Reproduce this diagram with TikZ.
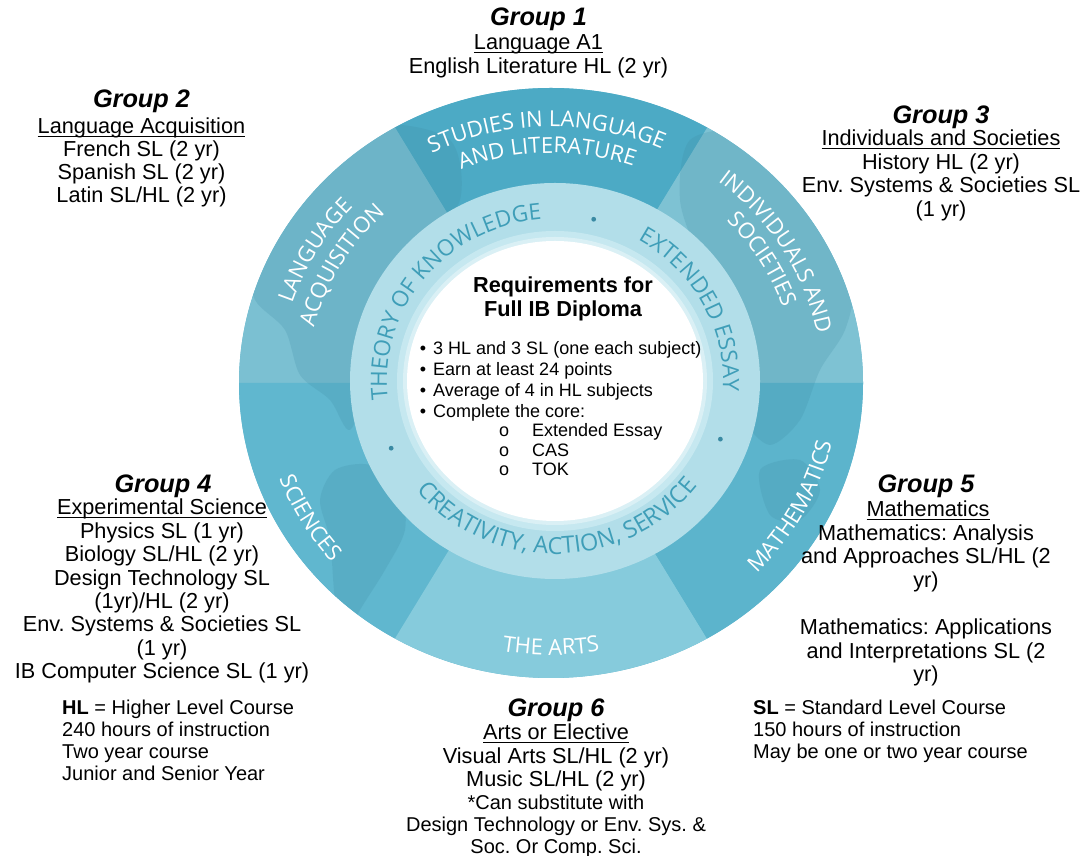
\documentclass[tikz,border=0pt]{standalone}
\usepackage{fontspec}
\setmainfont{Liberation Sans}
\newfontfamily\ringfont{Open Sans}
\usetikzlibrary{decorations.text}
\frenchspacing
\definecolor{secStudies}{HTML}{4CAAC5}
\definecolor{secIndiv}{HTML}{7EC2D3}
\definecolor{secLang}{HTML}{7BC0D2}
\definecolor{secSci}{HTML}{60B7CF}
\definecolor{secArts}{HTML}{86CBDC}
\definecolor{secMath}{HTML}{5CB4CC}
\definecolor{mapLand}{HTML}{3F8DA5}
\definecolor{coreRing}{HTML}{B2DEE9}
\definecolor{coreHalo}{HTML}{C6E8F0}
\definecolor{coreHaloB}{HTML}{DAF0F5}
\definecolor{coreText}{HTML}{3F9EB8}
\definecolor{coreDot}{HTML}{3A8AA3}
\newcommand\myul[1]{\setbox0=\hbox{#1}\rlap{\rule[-3pt]{\wd0}{1.4pt}}\box0}
\newcommand\ringtxt{\ringfont\fontsize{22}{22}\selectfont}
\newcommand\coretxt{\ringfont\fontsize{22.5}{22.5}\selectfont}
\newcommand\cascoretxt{\ringfont\fontsize{23.5}{23.5}\selectfont}
\tikzset{
 hdr/.style={anchor=base, inner sep=0pt, font=\fontsize{25.3}{28}\selectfont\bfseries\itshape},
 body/.style={anchor=base, inner sep=0pt, font=\fontsize{21.7}{23}\selectfont},
 note/.style={anchor=base west, inner sep=0pt, font=\fontsize{20}{22}\selectfont},
 notec/.style={anchor=base, inner sep=0pt, font=\fontsize{20}{22}\selectfont},
 reqhdr/.style={anchor=base, inner sep=0pt, font=\fontsize{21.7}{23}\selectfont\bfseries},
 req/.style={anchor=base west, inner sep=0pt, font=\fontsize{18}{20}\selectfont},
 outerlbl/.style={decorate, decoration={text along path, text align=center, text color=white, text={|\ringtxt|#1}}},
 corelbl/.style={decorate, decoration={text along path, text align=center, text color=coreText, text={|\coretxt|#1}}},
 caslbl/.style={decorate, decoration={text along path, text align=center, text color=coreText, text={|\cascoretxt|#1}}},
 land/.style={fill=mapLand, fill opacity=0.22},
}
\begin{document}
\begin{tikzpicture}[x=1pt,y=1pt]
\useasboundingbox (0,0) rectangle (1092,856);
\fill[white] (0,0) rectangle (1092,856);

% ---------- outer ring sectors ----------
\begin{scope}[shift={(551,473)}]
 \fill[secSci] (0,0) ellipse[x radius=312pt, y radius=295pt];
 \fill[secIndiv] (0,0) -- (0:312pt and 295pt) arc[start angle=0,end angle=60,x radius=312pt,y radius=295pt] -- cycle;
 \fill[secStudies] (0,0) -- (60:312pt and 295pt) arc[start angle=60,end angle=120,x radius=312pt,y radius=295pt] -- cycle;
 \fill[secLang] (0,0) -- (120:312pt and 295pt) arc[start angle=120,end angle=180,x radius=312pt,y radius=295pt] -- cycle;
 \fill[secSci] (0,0) -- (180:312pt and 295pt) arc[start angle=180,end angle=240,x radius=312pt,y radius=295pt] -- cycle;
 \fill[secArts] (0,0) -- (240:312pt and 295pt) arc[start angle=240,end angle=300,x radius=312pt,y radius=295pt] -- cycle;
 \fill[secMath] (0,0) -- (300:312pt and 295pt) arc[start angle=300,end angle=360,x radius=312pt,y radius=295pt] -- cycle;
\end{scope}

% ---------- faint world map ----------
\begin{scope}
 \clip (551,473) ellipse[x radius=312pt, y radius=295pt];
 \fill[land] plot[smooth cycle] coordinates {(300,696) (380,731) (450,716) (460,656) (420,606) (400,536) (370,476) (350,426) (330,456) (300,481) (285,526) (255,556) (250,596) (270,646)};
 \fill[land] plot[smooth cycle] coordinates {(335,386) (370,391) (400,366) (405,326) (385,286) (360,246) (345,216) (335,256) (330,316) (320,356)};
 \fill[land] plot[smooth cycle] coordinates {(690,716) (750,726) (800,696) (840,636) (855,576) (845,526) (820,486) (800,436) (770,411) (745,436) (750,476) (730,526) (700,596) (680,656)};
 \fill[land] plot[smooth cycle] coordinates {(760,386) (800,396) (820,366) (800,336) (770,341)};
\end{scope}

% ---------- outer ring labels ----------
\begin{scope}[shift={(551,473)}]
 \path[outerlbl={STUDIES IN LANGUAGE}] (161:271pt and 256pt) arc[start angle=161,end angle=21,x radius=271pt,y radius=256pt];
 \path[outerlbl={AND LITERATURE}] (161:243pt and 230pt) arc[start angle=161,end angle=21,x radius=243pt,y radius=230pt];
 \path[outerlbl={LANGUAGE}] (195:272pt and 257pt) arc[start angle=195,end angle=105,x radius=272pt,y radius=257pt];
 \path[outerlbl={ACQUISITION}] (195:244pt and 231pt) arc[start angle=195,end angle=105,x radius=244pt,y radius=231pt];
 \path[outerlbl={INDIVIDUALS AND}] (76:271pt and 256pt) arc[start angle=76,end angle=-14,x radius=271pt,y radius=256pt];
 \path[outerlbl={SOCIETIES}] (76:245pt and 232pt) arc[start angle=76,end angle=-14,x radius=245pt,y radius=232pt];
 \path[outerlbl={SCIENCES}] (165:290pt and 274pt) arc[start angle=165,end angle=255,x radius=290pt,y radius=274pt];
 \path[outerlbl={THE ARTS}] (225:288pt and 272pt) arc[start angle=225,end angle=315,x radius=288pt,y radius=272pt];
 \path[outerlbl={MATHEMATICS}] (288:288pt and 272pt) arc[start angle=288,end angle=376,x radius=288pt,y radius=272pt];
\end{scope}

% ---------- core ring ----------
\begin{scope}[shift={(555,475)}]
 \fill[coreRing] (0,0) ellipse[x radius=205pt, y radius=198pt];
 \fill[coreHalo] (0,0) ellipse[x radius=158pt, y radius=150pt];
 \fill[coreHaloB] (0,0) ellipse[x radius=152pt, y radius=144pt];
 \fill[white] (0,0) ellipse[x radius=148pt, y radius=140pt];
 \path[corelbl={THEORY OF KNOWLEDGE}] (216:168pt and 162pt) arc[start angle=216,end angle=66,x radius=168pt,y radius=162pt];
 \path[corelbl={EXTENDED ESSAY}] (93:168pt and 162pt) arc[start angle=93,end angle=-37,x radius=168pt,y radius=162pt];
 \path[caslbl={CREATIVITY, ACTION, SERVICE}] (191:179pt and 173pt) arc[start angle=191,end angle=351,x radius=179pt,y radius=173pt];
 \fill[coreDot] (77:172pt and 166pt) circle[radius=2.4pt];
 \fill[coreDot] (-20:176pt and 170pt) circle[radius=2.4pt];
 \fill[coreDot] (203:178pt and 172pt) circle[radius=2.4pt];
\end{scope}

% ---------- centre text ----------
\node[reqhdr] (reqA) at (563,563) {Requirements for};
\node[reqhdr] (reqB) at (563,539) {Full IB Diploma};
\foreach \t [count=\i from 0] in {{3 HL and 3 SL (one each subject)},{Earn at least 24 points},{Average of 4 in HL subjects},{Complete the core:}} {
 \node[req] (bt\i) at (433,{501-20.7*\i}) {\t};
 \node[req,anchor=base] (bd\i) at (423,{501-20.7*\i}) {•};
}
\foreach \t [count=\i from 0] in {{Extended Essay},{CAS},{TOK}} {
 \node[req] (st\i) at (532,{419-19.5*\i}) {\t};
 \node[req,anchor=base] (sd\i) at (504,{419-19.5*\i}) {o};
}

% ---------- Group 1 ----------
\node[hdr] (gone) at (538.5,830) {Group 1};
\node[body] (goneA) at (538.5,806) {\myul{Language A1}};
\node[body] (goneB) at (538.5,782) {English Literature HL (2 yr)};

% ---------- Group 2 ----------
\node[hdr] (gtwo) at (141.5,748) {Group 2};
\node[body] (gtwoA) at (141.5,722) {\myul{Language Acquisition}};
\foreach \t [count=\i from 0] in {{French SL (2 yr)},{Spanish SL (2 yr)},{Latin SL/HL (2 yr)}} {
 \node[body] (gtwo\i) at (141.5,{699-23*\i}) {\t};
}

% ---------- Group 3 ----------
\node[hdr] (gthree) at (941,732) {Group 3};
\node[body] (gthreeA) at (941,710) {\myul{Individuals and Societies}};
\foreach \t [count=\i from 0] in {{History HL (2 yr)},{Env. Systems \& Societies SL},{(1 yr)}} {
 \node[body] (gthree\i) at (941,{686.5-23.5*\i}) {\t};
}

% ---------- Group 4 ----------
\node[hdr] (gfour) at (163,363) {Group 4};
\node[body] (gfourA) at (162,341) {\myul{Experimental Science}};
\foreach \t [count=\i from 0] in {{Physics SL (1 yr)},{Biology SL/HL (2 yr)},{Design Technology SL},{(1yr)/HL (2 yr)},{Env. Systems \& Societies SL},{(1 yr)},{IB Computer Science SL (1 yr)}} {
 \node[body] (gfour\i) at (162,{317.6-23.4*\i}) {\t};
}
\foreach \t [count=\i from 0] in {{\textbf{HL} = Higher Level Course},{240 hours of instruction},{Two year course},{Junior and Senior Year}} {
 \node[note] (hl\i) at (62,{141-21.7*\i}) {\t};
}

% ---------- Group 5 ----------
\node[hdr] (gfive) at (926,363) {Group 5};
\node[body] (gfiveA) at (928,339) {\myul{Mathematics}};
\foreach \t [count=\i from 0] in {{Mathematics: Analysis},{and Approaches SL/HL (2},{yr)}} {
 \node[body] (gfive\i) at (926,{315.5-23.5*\i}) {\t};
}
\foreach \t [count=\i from 0] in {{Mathematics: Applications},{and Interpretations SL (2},{yr)}} {
 \node[body] (gfiveb\i) at (926,{221-23.5*\i}) {\t};
}
\foreach \t [count=\i from 0] in {{\textbf{SL} = Standard Level Course},{150 hours of instruction},{May be one or two year course}} {
 \node[note] (sl\i) at (753,{141-21.7*\i}) {\t};
}

% ---------- Group 6 ----------
\node[hdr] (gsix) at (556,139) {Group 6};
\node[body] (gsixA) at (556,116) {\myul{Arts or Elective}};
\node[body] (gsix0) at (556,92.5) {Visual Arts SL/HL (2 yr)};
\node[body] (gsix1) at (556,69) {Music SL/HL (2 yr)};
\foreach \t [count=\i from 0] in {{*Can substitute with},{Design Technology or Env. Sys. \&},{Soc. Or Comp. Sci.}} {
 \node[notec] (gsixn\i) at (556,{46.5-22*\i}) {\t};
}
\end{tikzpicture}
\end{document}
